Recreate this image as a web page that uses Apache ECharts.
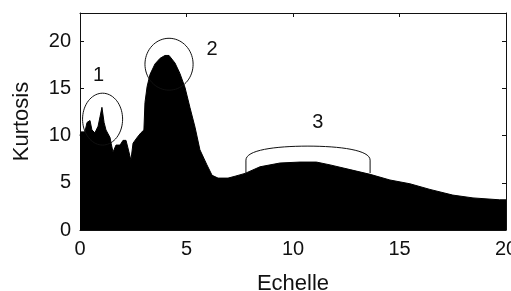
<!DOCTYPE html>
<html>
<head>
<meta charset="utf-8">
<title>Kurtosis</title>
<script src="https://cdn.jsdelivr.net/npm/echarts@6/dist/echarts.min.js"></script>
<style>
  html, body { margin: 0; padding: 0; background: #fff; }
  #chart-main { width: 511px; height: 291px; }
</style>
</head>
<body>
<div id="chart-main"></div>
<script>
// echelle (x) / kurtosis (y)
var scales   = [0, 0.05, 0.23, 0.33, 0.47, 0.56, 0.70, 0.85, 0.94, 1.03, 1.13, 1.22, 1.41, 1.46, 1.55, 1.69, 1.88,
                2.02, 2.16, 2.25, 2.39, 2.49, 2.68, 2.86, 3.00, 3.05, 3.15, 3.29, 3.52, 3.76, 3.99, 4.18, 4.46,
                4.69, 4.93, 5.16, 5.40, 5.63, 5.96, 6.20, 6.48, 6.95, 7.28, 7.75, 8.45, 9.39, 10.33, 11.10,
                11.74, 12.68, 13.62, 14.55, 15.49, 16.43, 17.50, 18.45, 19.70, 20];
var kurtosis = [10.0, 10.4, 10.4, 11.4, 11.6, 10.6, 10.3, 11.0, 12.0, 13.0, 11.4, 10.6, 9.8, 9.2, 8.25, 9.0, 9.0,
                9.5, 9.5, 8.7, 7.4, 9.2, 9.8, 10.3, 10.6, 13.5, 15.2, 16.5, 17.6, 18.2, 18.5, 18.5, 17.7,
                16.6, 15.1, 13.0, 10.9, 8.5, 6.9, 5.8, 5.5, 5.5, 5.7, 6.0, 6.7, 7.1, 7.2, 7.2,
                6.9, 6.4, 5.9, 5.3, 4.9, 4.3, 3.7, 3.4, 3.2, 3.2];

// annotations : ellipses 1 et 2 (centre, demi-axes en unites des axes)
var ringX  = [1.06, 4.18];
var ringY  = [11.75, 17.57];
var ringRx = [0.94, 1.13];
var ringRy = [2.75, 2.75];

// annotation 3 : arc aplati (M, L, C c c p, C c c p, L)
var capX = [7.79, 7.79, 7.79, 9.15, 10.70, 12.21, 13.62, 13.62, 13.62];
var capY = [6.03, 7.41, 8.47, 8.89, 8.89, 8.89, 8.47, 7.41, 6.03];

var markText = ['1', '2', '3'];
var markX    = [0.87, 6.2, 11.17];
var markY    = [16.4, 19.1, 11.38];

var font = 'Liberation Sans, Arial, sans-serif';
var ink  = '#111';

var chart = echarts.init(document.getElementById('chart-main'));

var areaData = scales.map(function (x, i) { return [x, kurtosis[i]]; });
var ringData = ringX.map(function (x, i) { return [x, ringY[i], ringRx[i], ringRy[i]]; });
var textData = markX.map(function (x, i) { return [x, markY[i], markText[i]]; });

function renderRing(params, api) {
  var c = api.coord([api.value(0), api.value(1)]);
  var s = api.size([api.value(2), api.value(3)]);
  var pts = [];
  for (var k = 0; k < 72; k++) {
    var a = k / 72 * Math.PI * 2;
    pts.push([c[0] + s[0] * Math.cos(a), c[1] + s[1] * Math.sin(a)]);
  }
  return { type: 'polygon', shape: { points: pts }, style: { fill: 'none', stroke: ink, lineWidth: 1 } };
}

function renderCap(params, api) {
  var p = capX.map(function (x, i) { return api.coord([x, capY[i]]); });
  var d = 'M' + p[0] + ' L' + p[1] +
          ' C' + p[2] + ' ' + p[3] + ' ' + p[4] +
          ' C' + p[5] + ' ' + p[6] + ' ' + p[7] +
          ' L' + p[8];
  d = d.replace(/,/g, ' ');
  return { type: 'path', shape: { pathData: d }, style: { fill: 'none', stroke: ink, lineWidth: 1 } };
}

function renderText(params, api) {
  var c = api.coord([api.value(0), api.value(1)]);
  return { type: 'text', x: c[0], y: c[1],
    style: { text: textData[params.dataIndex][2], fill: ink, fontSize: 20, fontFamily: font,
             align: 'center', verticalAlign: 'middle' } };
}

var axisLine = { show: true, onZero: false, lineStyle: { color: ink, width: 1 } };
var axisTick = { show: true, inside: true, length: 4, lineStyle: { color: ink } };
var axisLabel = { color: ink, fontSize: 20, fontFamily: font };

var option = {
  animation: false,
  backgroundColor: '#fff',
  grid: { left: 80, right: 5, top: 13, bottom: 61, containLabel: false, outerBoundsMode: 'none' },
  xAxis: [{
    type: 'value', min: 0, max: 20, interval: 5, position: 'bottom',
    axisLine: axisLine, axisTick: axisTick, splitLine: { show: false },
    axisLabel: Object.assign({ margin: 9 }, axisLabel),
    name: 'Echelle', nameLocation: 'middle', nameGap: 43,
    nameTextStyle: { color: ink, fontSize: 22, fontFamily: font }
  }, {
    type: 'value', min: 0, max: 20, interval: 5, position: 'top',
    axisLine: axisLine, axisTick: axisTick, splitLine: { show: false }, axisLabel: { show: false }
  }],
  yAxis: [{
    type: 'value', min: 0, max: 23, interval: 5, position: 'left',
    axisLine: axisLine, axisTick: axisTick, splitLine: { show: false },
    axisLabel: Object.assign({ margin: 9, showMaxLabel: false }, axisLabel),
    name: 'Kurtosis', nameLocation: 'middle', nameGap: 47,
    nameTextStyle: { color: ink, fontSize: 22, fontFamily: font }
  }, {
    type: 'value', min: 0, max: 23, interval: 5, position: 'right',
    axisLine: axisLine, axisTick: axisTick, splitLine: { show: false }, axisLabel: { show: false }
  }],
  series: [{
    type: 'line', data: areaData, showSymbol: false, z: 1,
    lineStyle: { color: '#000', width: 1 },
    areaStyle: { color: '#000', opacity: 1 }
  }, {
    type: 'custom', data: ringData, renderItem: renderRing, z: 3, silent: true
  }, {
    type: 'custom', data: [[0, 0]], renderItem: renderCap, z: 3, silent: true
  }, {
    type: 'custom', data: textData, renderItem: renderText, z: 4, silent: true
  }]
};

chart.setOption(option);
</script>
</body>
</html>
